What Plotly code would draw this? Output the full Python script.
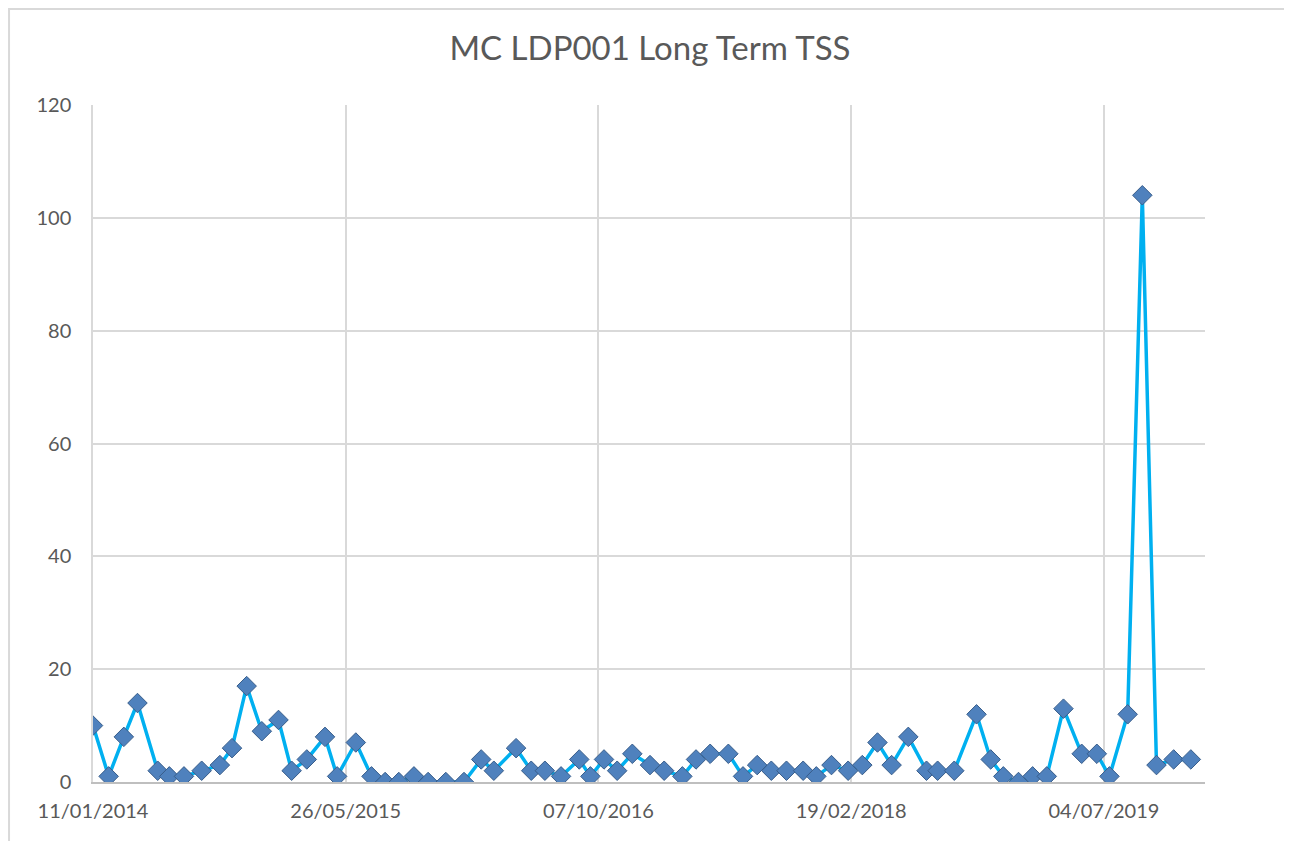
import plotly.graph_objects as go

# sample dates (dd) and TSS values
dates = [
    "2014-01-11", "2014-02-11", "2014-03-13", "2014-04-09", "2014-05-19", "2014-06-11",
    "2014-07-10", "2014-08-14", "2014-09-19", "2014-10-13", "2014-11-11", "2014-12-11",
    "2015-01-13", "2015-02-08", "2015-03-10", "2015-04-15", "2015-05-09", "2015-06-15",
    "2015-07-16", "2015-08-12", "2015-09-08", "2015-10-08", "2015-11-05", "2015-12-10",
    "2016-01-15", "2016-02-18", "2016-03-14", "2016-04-27", "2016-05-27", "2016-06-23",
    "2016-07-25", "2016-08-30", "2016-09-21", "2016-10-18", "2016-11-13", "2016-12-13",
    "2017-01-17", "2017-02-14", "2017-03-22", "2017-04-18", "2017-05-16", "2017-06-21",
    "2017-07-20", "2017-08-17", "2017-09-14", "2017-10-14", "2017-11-16", "2017-12-12",
    "2018-01-11", "2018-02-13", "2018-03-13", "2018-04-12", "2018-05-10", "2018-06-12",
    "2018-07-18", "2018-08-09", "2018-09-11", "2018-10-25", "2018-11-22", "2018-12-17",
    "2019-01-16", "2019-02-13", "2019-03-13", "2019-04-15", "2019-05-21", "2019-06-20",
    "2019-07-15", "2019-08-20", "2019-09-18", "2019-10-16", "2019-11-19", "2019-12-23",
]
tss = [
    10, 1, 8, 14, 2, 1, 1, 2, 3, 6, 17, 9,
    11, 2, 4, 8, 1, 7, 1, 0, 0, 1, 0, 0,
    0, 4, 2, 6, 2, 2, 1, 4, 1, 4, 2, 5,
    3, 2, 1, 4, 5, 5, 1, 3, 2, 2, 2, 1,
    3, 2, 3, 7, 3, 8, 2, 2, 2, 12, 4, 1,
    0, 1, 1, 13, 5, 5, 1, 12, 104, 3, 4, 4,
]

x_start = "2014-01-11"
x_end = "2020-01-20"
tick_step_days = 500

grey_text = "#595959"
grid = "#d9d9d9"

fig = go.Figure()
fig.add_trace(go.Scatter(
    x=dates,
    y=tss,
    mode="lines+markers",
    line=dict(color="#00B0F0", width=3.5),
    marker=dict(symbol="diamond", size=15, color="#4F81BD",
                line=dict(color="#385D8A", width=1)),
    showlegend=False,
))

# the page body keeps an 8px margin, so the figure is 8px smaller
fig.update_layout(
    width=1284,
    height=833,
    paper_bgcolor="white",
    plot_bgcolor="white",
    margin=dict(l=85, r=87, t=97, b=59),
    font=dict(family="Lato, Carlito, sans-serif", color=grey_text, size=20),
    title=dict(text="MC LDP001 Long Term TSS", x=0.5, xanchor="center",
               y=0.952, yanchor="middle", font=dict(size=33, color=grey_text)),
    xaxis=dict(
        type="date",
        range=[x_start, x_end],
        tick0=x_start,
        dtick=tick_step_days * 86400000,
        tickformat="%d/%m/%Y",
        showgrid=True,
        gridcolor=grid,
        gridwidth=1.5,
        showline=True,
        linecolor="#bfbfbf",
        linewidth=1.5,
        ticks="",
        ticklabelstandoff=10,
        zeroline=False,
    ),
    yaxis=dict(
        range=[0, 120],
        dtick=20,
        showgrid=True,
        gridcolor=grid,
        gridwidth=1.5,
        showline=True,
        linecolor=grid,
        linewidth=1.5,
        zeroline=False,
        ticks="",
        ticklabelstandoff=16,
    ),
    shapes=[dict(
        type="rect", xref="paper", yref="paper",
        x0=-0.0755, x1=1.0737, y0=-0.12, y1=1.1418,
        line=dict(color=grid, width=2), layer="below",
    )],
)

fig.write_html("out.html")
